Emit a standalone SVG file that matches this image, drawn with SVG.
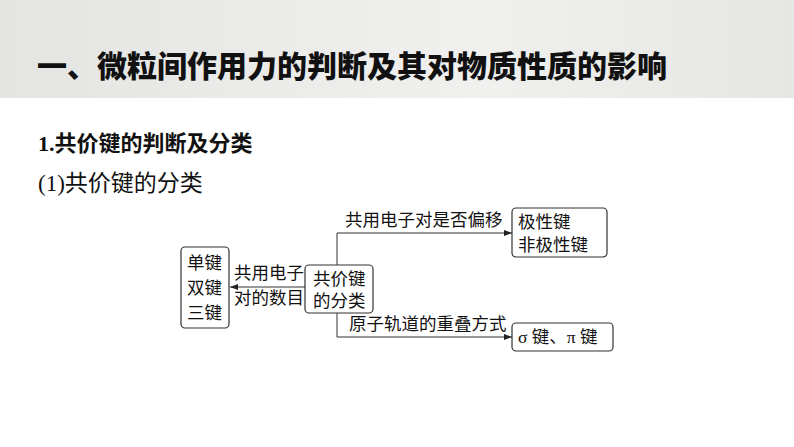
<svg xmlns="http://www.w3.org/2000/svg" width="794" height="447" viewBox="0 0 794 447">
<defs>
<linearGradient id="bg" x1="0" x2="1" y1="0" y2="0"><stop offset="0" stop-color="#e4e4e2"/><stop offset="0.6" stop-color="#f0f0ee"/><stop offset="1" stop-color="#e6e6e4"/></linearGradient>
<marker id="ar" markerWidth="8" markerHeight="6" refX="8" refY="3" orient="auto" markerUnits="userSpaceOnUse"><path d="M0,0 L8,3 L0,6 Z" fill="#222"/></marker>
</defs>
<style>
.t{font-family:"Liberation Serif","Noto Sans CJK SC",serif;fill:#111;font-size:17.5px}
.b{fill:#fff;stroke:#333;stroke-width:1.2}
.c{fill:none;stroke:#333;stroke-width:1}
</style>
<rect x="0" y="0" width="794" height="98" fill="url(#bg)"/>
<text x="37" y="77" font-family="Noto Sans CJK SC,sans-serif" font-weight="900" font-size="30" fill="#111">一、微粒间作用力的判断及其对物质性质的影响</text>
<text x="38" y="151" font-family="Liberation Serif,Noto Sans CJK SC,serif" font-weight="bold" font-size="22" fill="#111">1.共价键的判断及分类</text>
<text x="38" y="191" font-family="Liberation Serif,Noto Sans CJK SC,serif" font-size="23" fill="#111">(1)共价键的分类</text>
<g id="connectors">
<line class="c" x1="305" y1="287" x2="230" y2="287" marker-end="url(#ar)"/>
<polyline class="c" points="337,265 337,233 512,233" marker-end="url(#ar)"/>
<polyline class="c" points="337,313 337,337 512,337" marker-end="url(#ar)"/>
<text class="t" x="234" y="279">共用电子</text>
<text class="t" x="234" y="304">对的数目</text>
<text class="t" x="345" y="226">共用电子对是否偏移</text>
<text class="t" x="349" y="330">原子轨道的重叠方式</text>
</g>
<g id="n-left"><rect class="b" x="181" y="247" width="48" height="81" rx="4"/>
<text class="t" x="187" y="269">单键</text><text class="t" x="187" y="294">双键</text><text class="t" x="187" y="319">三键</text></g>
<g id="n-center"><rect class="b" x="305" y="265" width="68" height="48" rx="4"/>
<text class="t" x="313" y="285">共价键</text><text class="t" x="313" y="307">的分类</text></g>
<g id="n-top"><rect class="b" x="512" y="208" width="95" height="49" rx="4"/>
<text class="t" x="518" y="228">极性键</text><text class="t" x="518" y="251">非极性键</text></g>
<g id="n-bottom"><rect class="b" x="512" y="323" width="101" height="28" rx="4"/>
<text class="t" x="518" y="343">σ 键、π 键</text></g>
</svg>
